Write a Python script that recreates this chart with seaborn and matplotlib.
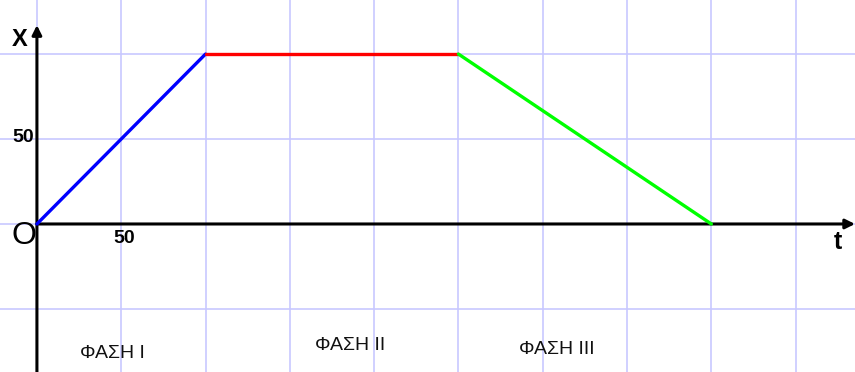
# Position-time graph for three phases of motion

import pandas as pd
import matplotlib
matplotlib.use("Agg")
import matplotlib.pyplot as plt
import seaborn as sns


# Data
t_points = [0, 100, 250, 400]
x_points = [0, 100, 100, 0]
phase_names = ["ΦΑΣΗ Ι", "ΦΑΣΗ ΙΙ", "ΦΑΣΗ ΙΙΙ"]
phase_colors = ["#0000ff", "#ff0000", "#00ff00"]
grid_t = [0, 50, 100, 150, 200, 250, 300, 350, 400, 450]
grid_x = [-50, 0, 50, 100]

# one row per segment end, tagged with phase
rows = []
for i, name in enumerate(phase_names):
    rows.append({"t": t_points[i], "x": x_points[i], "phase": name})
    rows.append({"t": t_points[i + 1], "x": x_points[i + 1], "phase": name})
df = pd.DataFrame(rows)


sns.set_style("white")
plt.rcParams['font.family'] = ['Liberation Sans', 'DejaVu Sans']

fig = plt.figure(figsize=(8.55, 3.72), dpi=100)
ax = fig.add_axes([0, 0, 1, 1])

ax.set_xlim(-21.9, 485.2)
ax.set_ylim(-87.1, 131.8)

# light blue grid
for g in grid_t:
    ax.axvline(g, color="#c8c8ff", lw=1.2, zorder=0)
for g in grid_x:
    ax.axhline(g, color="#c8c8ff", lw=1.2, zorder=0)

# axes with arrows
ax.annotate("", xy=(0, 117), xytext=(0, -87.1),
            arrowprops=dict(arrowstyle="-|>", color="black", lw=2.2,
                            mutation_scale=14, shrinkA=0, shrinkB=0))
ax.annotate("", xy=(485.2, 0), xytext=(0, 0),
            arrowprops=dict(arrowstyle="-|>", color="black", lw=2.2,
                            mutation_scale=14, shrinkA=0, shrinkB=0))

sns.lineplot(
    data=df,
    x="t",
    y="x",
    hue="phase",
    palette=phase_colors,
    linewidth=2.4,
    legend=False,
    sort=False,
    estimator=None,
    ax=ax,
    zorder=3
)

# labels
ax.text(-10.3, 108.5, "X", fontsize=17, fontweight="bold", color="black",
        ha="center", va="center")
ax.text(-2.0, 50.6, "50", fontsize=14, fontweight="bold", color="black",
        ha="right", va="center")
ax.text(-7.9, -6.8, "O", fontsize=23, color="black", ha="center", va="center")
ax.text(51.6, -8.6, "50", fontsize=14, fontweight="bold", color="black",
        ha="center", va="center")
ax.text(475, -10.5, "t", fontsize=18, fontweight="bold", color="black",
        ha="center", va="center")

phase_pos = [(45, -76.5), (185.7, -71.8), (308.4, -74.1)]
for name, (px, py) in zip(phase_names, phase_pos):
    ax.text(px, py, name, fontsize=14, color="#111111", ha="center", va="center")

ax.set_xticks([])
ax.set_yticks([])
ax.set_xlabel("")
ax.set_ylabel("")
for s in ax.spines.values():
    s.set_visible(False)

plt.savefig("out.png", dpi=100)
